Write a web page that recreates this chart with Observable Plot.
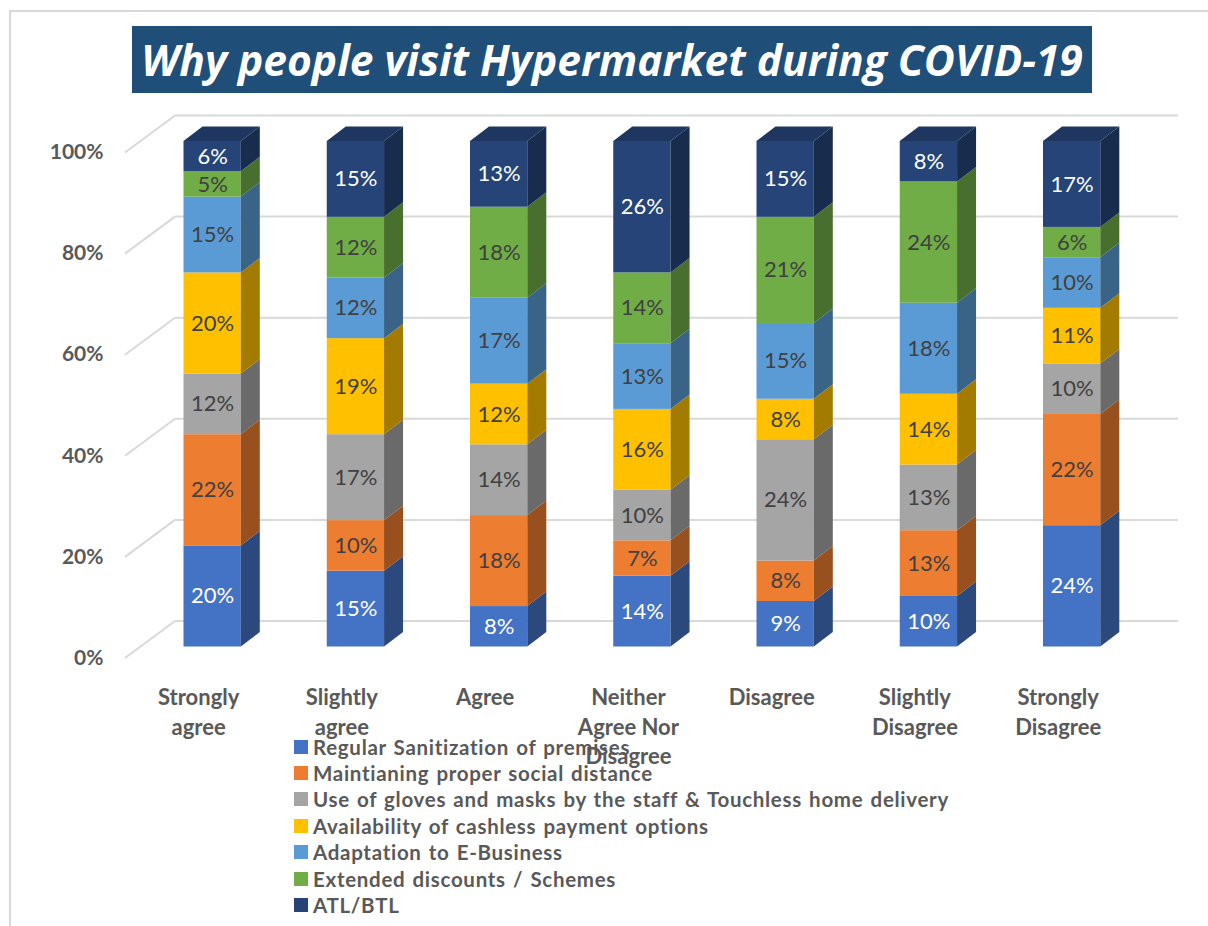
<!DOCTYPE html>
<html>
<head>
<meta charset="utf-8">
<script src="https://cdn.jsdelivr.net/npm/d3@7"></script>
<script src="https://cdn.jsdelivr.net/npm/@observablehq/plot@0.6"></script>
<style>
  html, body { margin: 0; padding: 0; background: #fff; width: 1208px; height: 926px; overflow: hidden; }
  body { position: relative; font-family: Lato, "Open Sans", sans-serif; }
  #frame { position: absolute; left: 9px; top: 10px; right: 0; bottom: 0; border-left: 2.5px solid #d9d9d9; border-top: 2px solid #d9d9d9; }
  #title { position: absolute; left: 132px; top: 26px; width: 960px; height: 67px; background: #1f4e79; color: #fff;
           font: italic 700 42.5px/67px "Open Sans", sans-serif; text-align: center; white-space: nowrap; }
  #chart { position: absolute; left: 0; top: 0; }
  #chart svg { display: block; background: transparent; }
  #legend { position: absolute; left: 294px; top: 733.5px; }
  .row { display: flex; align-items: center; height: 26.4px; color: #595959; font: 700 20.5px Lato, sans-serif; letter-spacing: 0.7px; word-spacing: 1.5px; white-space: nowrap; }
  .sw { width: 14px; height: 14px; margin-right: 5px; flex: none; }
</style>
</head>
<body>
<div id="frame"></div>
<div id="chart"></div>
<div id="title">Why people visit Hypermarket during COVID-19</div>
<div id="legend"></div>
<script>
const categories = ["Strongly\nagree", "Slightly\nagree", "Agree", "Neither\nAgree Nor\nDisagree", "Disagree", "Slightly\nDisagree", "Strongly\nDisagree"];
const seriesNames = [
  "Regular Sanitization of premises",
  "Maintianing proper social distance",
  "Use of gloves and masks by the staff & Touchless home delivery",
  "Availability of cashless payment options",
  "Adaptation to E-Business",
  "Extended discounts / Schemes",
  "ATL/BTL"
];
const colors = ["#4472c4", "#ed7d31", "#a5a5a5", "#ffc000", "#5b9bd5", "#70ad47", "#264478"];
const sanitization = [20, 15, 8, 14, 9, 10, 24];
const socialDistance = [22, 10, 18, 7, 8, 13, 22];
const gloves = [12, 17, 14, 10, 24, 13, 10];
const cashless = [20, 19, 12, 16, 8, 14, 11];
const eBusiness = [15, 12, 17, 13, 15, 18, 10];
const discounts = [5, 12, 18, 14, 21, 24, 6];
const atlBtl = [6, 15, 13, 26, 15, 8, 17];
const yTicks = [0, 20, 40, 60, 80, 100];

const seriesValues = [sanitization, socialDistance, gloves, cashless, eBusiness, discounts, atlBtl];
const table = seriesValues.flatMap((vals, s) => vals.map((v, c) => ({category: categories[c], series: seriesNames[s], value: v, s})));

const DX = 19, DY = -14.5;          // bar depth
const FX = -50, FY = 37;            // side-wall run towards the viewer
const WALL = -26;                   // back wall offset from the bar front plane
const shade = (c, k) => { const r = d3.rgb(c); return d3.rgb(r.r * k, r.g * k, r.b * k).formatHex(); };

function walls(index, scales, values, dims, ctx, next) {
  const g = next(index, scales, values, dims, ctx);
  for (const t of yTicks) {
    d3.select(g).append("line")
      .attr("x1", dims.marginLeft).attr("y1", scales.y(t))
      .attr("x2", dims.marginLeft + FX).attr("y2", scales.y(t) + FY)
      .attr("stroke", "#d9d9d9").attr("stroke-width", 2);
  }
  return g;
}

function extrude(index, scales, values, dims, ctx, next) {
  const g = next(index, scales, values, dims, ctx);
  const w = scales.x.bandwidth();
  const sel = d3.select(g);
  for (const i of index) {
    const d = table[i];
    const x = values.x[i];
    const top = Math.min(values.y1[i], values.y2[i]);
    const bot = Math.max(values.y1[i], values.y2[i]);
    sel.append("polygon")
      .attr("points", [[x + w, top], [x + w + DX, top + DY], [x + w + DX, bot + DY], [x + w, bot]].join(" "))
      .attr("fill", shade(colors[d.s], 0.64));
    if (d.s === seriesNames.length - 1) {
      sel.append("polygon")
        .attr("points", [[x, top], [x + DX, top + DY], [x + w + DX, top + DY], [x + w, top]].join(" "))
        .attr("fill", shade(colors[d.s], 0.8));
    }
  }
  return g;
}

const stackOpts = {x: "category", y: "value", z: "s", order: null, reverse: false};

const chart = Plot.plot({
  width: 1208,
  height: 926,
  marginLeft: 175,
  marginRight: 30,
  marginTop: 141,
  marginBottom: 279.5,
  style: {background: "transparent", overflow: "visible"},
  x: {domain: categories, range: [97.55, 1186.25], padding: 0.6, round: false, label: null},
  y: {domain: [0, 100], label: null},
  color: {domain: seriesNames, range: colors},
  marks: [
    Plot.ruleY(yTicks, {dy: WALL, stroke: "#d9d9d9", strokeWidth: 2, strokeOpacity: 1, render: walls}),
    Plot.axisY(yTicks, {
      tickSize: 0, tickPadding: 72, dy: 11, label: null,
      tickFormat: d => d + "%", fontSize: 21, fontWeight: 700, fill: "#595959", fontFamily: "Lato, sans-serif"
    }),
    Plot.axisX({
      tickSize: 0, tickPadding: 37.5, dx: -14, label: null, lineHeight: 1.34,
      fontSize: 22, fontWeight: 700, fill: "#595959", fontFamily: "Lato, sans-serif"
    }),
    Plot.barY(table, Plot.stackY({...stackOpts, fill: "series", render: extrude})),
    Plot.text(table, Plot.stackY({
      ...stackOpts,
      text: d => d.value + "%",
      fill: d => (d.s === 0 || d.s === 6) ? "#ffffff" : "#404040",
      fontSize: 22,
      fontFamily: "Lato, sans-serif"
    }))
  ]
});
document.getElementById("chart").appendChild(chart);

const legend = d3.select("#legend");
seriesNames.forEach((name, i) => {
  const row = legend.append("div").attr("class", "row");
  row.append("span").attr("class", "sw").style("background", colors[i]);
  row.append("span").text(name);
});
</script>
</body>
</html>
